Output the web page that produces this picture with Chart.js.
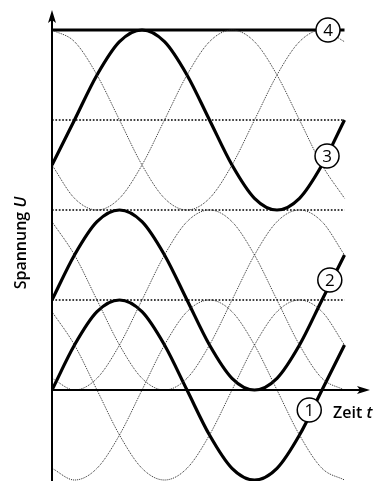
<!DOCTYPE html>
<html>
<head>
<meta charset="UTF-8">
<script src="https://cdn.jsdelivr.net/npm/chart.js"></script>
<style>
  html, body { margin: 0; padding: 0; background: #fff; }
  canvas { display: block; }
</style>
</head>
<body>
<canvas id="chart" width="381" height="481"></canvas>
<script>
// Phase angle (degrees) of the sampled points
const phase = [0, 30, 60, 90, 120, 150, 180, 210, 240, 270, 300, 330, 360, 390];

// curve 1 and its two companions (around 0)
const curve1   = [0, 0.5, 0.87, 1, 0.87, 0.5, 0, -0.5, -0.87, -1, -0.87, -0.5, 0, 0.5];
const band1b   = [-0.87, -1, -0.87, -0.5, 0, 0.5, 0.87, 1, 0.87, 0.5, 0, -0.5, -0.87, -1];
const band1c   = [0.87, 0.5, 0, -0.5, -0.87, -1, -0.87, -0.5, 0, 0.5, 0.87, 1, 0.87, 0.5];

// curve 2 and companions (around 1)
const curve2   = [1, 1.5, 1.87, 2, 1.87, 1.5, 1, 0.5, 0.13, 0, 0.13, 0.5, 1, 1.5];
const band2b   = [0.13, 0, 0.13, 0.5, 1, 1.5, 1.87, 2, 1.87, 1.5, 1, 0.5, 0.13, 0];
const band2c   = [1.87, 1.5, 1, 0.5, 0.13, 0, 0.13, 0.5, 1, 1.5, 1.87, 2, 1.87, 1.5];

// curve 3 and companions (around 3)
const curve3   = [2.5, 3, 3.5, 3.87, 4, 3.87, 3.5, 3, 2.5, 2.13, 2, 2.13, 2.5, 3];
const band3b   = [4, 3.87, 3.5, 3, 2.5, 2.13, 2, 2.13, 2.5, 3, 3.5, 3.87, 4, 3.87];
const band3c   = [2.5, 2.13, 2, 2.13, 2.5, 3, 3.5, 3.87, 4, 3.87, 3.5, 3, 2.5, 2.13];

// curve 4: constant
const curve4   = [4, 4, 4, 4, 4, 4, 4, 4, 4, 4, 4, 4, 4, 4];

// dotted reference levels
const levels = [1, 2, 3];

function pts(arr) {
  return phase.map((p, i) => ({ x: p, y: arr[i] }));
}

const thin = (arr) => ({
  data: pts(arr),
  borderColor: '#2a2a2a',
  borderWidth: 1,
  borderDash: [1, 1],
  pointRadius: 0,
  cubicInterpolationMode: 'monotone',
  fill: false
});
const thick = (arr) => ({
  data: pts(arr),
  borderColor: '#000',
  borderWidth: 3.2,
  pointRadius: 0,
  cubicInterpolationMode: 'monotone',
  fill: false
});
const level = (v) => ({
  data: [{ x: phase[0], y: v }, { x: phase[phase.length - 1], y: v }],
  borderColor: '#000',
  borderWidth: 1.7,
  borderDash: [1.7, 1.7],
  pointRadius: 0,
  fill: false
});

// circled numbers: [number, phase, value]
const marks = [['4', 368, 4.0], ['3', 366.7, 2.6], ['2', 370.4, 1.222], ['1', 343, -0.222]];

const FONT = '"Open Sans", "DejaVu Sans", sans-serif';

const deco = {
  id: 'deco',
  afterDatasetsDraw(chart) {
    const ctx = chart.ctx;
    const xs = chart.scales.x, ys = chart.scales.y;
    const x0 = xs.getPixelForValue(0);
    const y0 = ys.getPixelForValue(0);
    const top = chart.chartArea.top;
    const bottom = chart.chartArea.bottom;
    const xEnd = xs.getPixelForValue(424);

    ctx.save();
    ctx.strokeStyle = '#000';
    ctx.fillStyle = '#000';
    ctx.lineWidth = 2;
    // y axis
    ctx.beginPath();
    ctx.moveTo(x0, bottom);
    ctx.lineTo(x0, top + 6);
    ctx.stroke();
    ctx.beginPath();
    ctx.moveTo(x0, top);
    ctx.lineTo(x0 + 4, top + 13);
    ctx.lineTo(x0, top + 10);
    ctx.lineTo(x0 - 4, top + 13);
    ctx.closePath();
    ctx.fill();
    // x axis
    ctx.beginPath();
    ctx.moveTo(x0, y0);
    ctx.lineTo(xEnd - 6, y0);
    ctx.stroke();
    ctx.beginPath();
    ctx.moveTo(xEnd, y0);
    ctx.lineTo(xEnd - 13, y0 - 4);
    ctx.lineTo(xEnd - 10, y0);
    ctx.lineTo(xEnd - 13, y0 + 4);
    ctx.closePath();
    ctx.fill();

    // circled numbers
    marks.forEach(([n, p, v]) => {
      const cx = xs.getPixelForValue(p), cy = ys.getPixelForValue(v);
      ctx.beginPath();
      ctx.arc(cx, cy, 12, 0, Math.PI * 2);
      ctx.fillStyle = '#fff';
      ctx.fill();
      ctx.lineWidth = 1.5;
      ctx.strokeStyle = '#000';
      ctx.stroke();
      ctx.fillStyle = '#000';
      ctx.font = '500 17px ' + FONT;
      ctx.textAlign = 'center';
      ctx.textBaseline = 'middle';
      ctx.fillText(n, cx, cy + 1);
    });

    // axis titles
    ctx.textBaseline = 'alphabetic';
    ctx.textAlign = 'left';
    ctx.font = '600 16px ' + FONT;
    const zx = xs.getPixelForValue(374.7), zy = ys.getPixelForValue(-0.311);
    ctx.fillText('Zeit ', zx, zy);
    const w = ctx.measureText('Zeit ').width;
    ctx.font = 'italic 600 16px ' + FONT;
    ctx.fillText('t', zx + w, zy);

    ctx.translate(26, 243);
    ctx.rotate(-Math.PI / 2);
    ctx.font = '600 16px ' + FONT;
    const a = 'Spannung ';
    const wa = ctx.measureText(a).width;
    ctx.font = 'italic 600 16px ' + FONT;
    const wb = ctx.measureText('U').width;
    const sx = -(wa + wb) / 2;
    ctx.font = '600 16px ' + FONT;
    ctx.fillText(a, sx, 0);
    ctx.font = 'italic 600 16px ' + FONT;
    ctx.fillText('U', sx + wa, 0);
    ctx.restore();
  }
};

new Chart(document.getElementById('chart'), {
  type: 'line',
  data: {
    datasets: [
      thin(band1b), thin(band1c),
      thin(band2b), thin(band2c),
      thin(band3b), thin(band3c),
      ...levels.map(level),
      thick(curve1), thick(curve2), thick(curve3), thick(curve4)
    ]
  },
  options: {
    responsive: false,
    animation: false,
    devicePixelRatio: 1,
    layout: { padding: { left: 52, right: 11, top: 10, bottom: 0 } },
    plugins: { legend: { display: false }, tooltip: { enabled: false } },
    scales: {
      x: { type: 'linear', min: 0, max: 424, display: false },
      y: { type: 'linear', min: -1.011, max: 4.222, display: false }
    }
  },
  plugins: [deco]
});
</script>
</body>
</html>
